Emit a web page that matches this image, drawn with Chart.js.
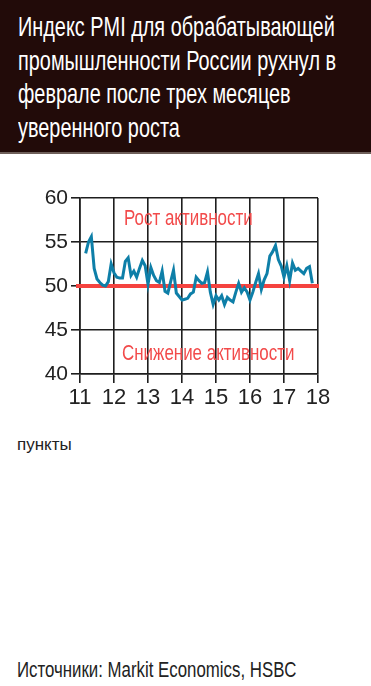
<!DOCTYPE html>
<html>
<head>
<meta charset="utf-8">
<script src="https://cdn.jsdelivr.net/npm/chart.js@4/dist/chart.umd.min.js"></script>
<style>
  body { margin: 0; width: 371px; height: 686px; background: #fff; position: relative; overflow: hidden; }
  #head { position: absolute; left: 0; top: 0; width: 371px; height: 152px; background: #220b09; border-bottom: 2px solid #6e5f5a; }
  #head div { position: absolute; left: 18px; top: 10px; color: #fff; white-space: nowrap; font: 28px/33.5px "Liberation Sans", Arial, sans-serif; transform: scaleX(0.71); transform-origin: 0 0; }
  #wrap { position: absolute; left: 0; top: 160px; width: 371px; height: 260px; }
  #unit { position: absolute; left: 17px; top: 435px; font: 17px "Liberation Sans", Arial, sans-serif; color: #222; }
  #src { position: absolute; left: 17px; top: 657px; white-space: nowrap; font: 22px "Liberation Sans", Arial, sans-serif; color: #222; transform: scaleX(0.765); transform-origin: 0 0; }
</style>
</head>
<body>
<div id="head"><div>Индекс PMI для обрабатывающей<br>промышленности России рухнул в<br>феврале после трех месяцев<br>уверенного роста</div></div>
<div id="wrap"><canvas id="myChart" width="371" height="260"></canvas></div>
<div id="unit">пункты</div>
<div id="src">Источники: Markit Economics, HSBC</div>
<script>
// year tick labels, one every 12 months
var yearLabels = ['11', '12', '13', '14', '15', '16', '17', '18'];
// first month of data, counted from January 2011
var firstMonth = 2;
// PMI values, monthly
var pmiValues = [
  53.7, 55.0, 55.6, 52.0, 50.8, 50.4, 50.1, 50.0, 50.5, 52.5,
  51.5, 51.0, 50.9, 50.9, 52.8, 53.2, 51.2, 51.7, 51.0, 52.0,
  52.9, 52.3, 50.2, 52.1, 51.2, 50.6, 50.4, 51.7, 49.4, 49.2,
  50.5, 51.8, 49.2, 48.8, 48.4, 48.5, 48.6, 49.1, 49.3, 51.0,
  50.6, 50.3, 50.4, 51.6, 49.3, 47.9, 48.9, 48.4, 48.9, 47.9,
  48.7, 48.4, 48.2, 49.3, 50.3, 49.3, 49.8, 49.3, 48.4, 49.3,
  50.4, 51.4, 49.6, 50.7, 51.4, 53.4, 53.9, 54.6, 53.0, 52.3,
  51.0, 52.3, 50.6, 52.6, 51.8, 52.0, 51.7, 51.4, 52.0, 52.2,
  50.3
];
var yTicks = [40, 45, 50, 55, 60];
var upText = 'Рост активности';
var downText = 'Снижение активности';

var sans = '"Liberation Sans", Arial, sans-serif';

var points = pmiValues.map(function(v, i) { return { x: firstMonth + i, y: v }; });

// narrow-looking text: squeeze horizontally
function narrowText(c, txt, x, y) {
  c.save();
  c.translate(x, y);
  c.scale(0.77, 1);
  c.fillText(txt, 0, 0);
  c.restore();
}

// red 50 line and the two labels
var marks = {
  id: 'marks',
  beforeDatasetsDraw: function(chart) {
    var c = chart.ctx, a = chart.chartArea, y = chart.scales.y;
    var y50 = y.getPixelForValue(50);
    c.save();
    c.strokeStyle = '#f5433f';
    c.lineWidth = 4;
    c.beginPath();
    c.moveTo(a.left - 4, y50);
    c.lineTo(a.right + 1, y50);
    c.stroke();
    c.fillStyle = '#f24a4a';
    c.font = '22px ' + sans;
    c.textBaseline = 'middle';
    narrowText(c, upText, 124, y.getPixelForValue(57.6));
    narrowText(c, downText, 122, y.getPixelForValue(42.3));
    c.restore();
  }
};

var ctx = document.getElementById('myChart').getContext('2d');
var myChart = new Chart(ctx, {
  type: 'line',
  data: {
    datasets: [{
      data: points,
      borderColor: '#0e7fa8',
      borderWidth: 3,
      pointRadius: 0,
      tension: 0
    }]
  },
  options: {
    responsive: false,
    animation: false,
    layout: { padding: { left: 8, right: 53, top: 38, bottom: 10 } },
    plugins: { legend: { display: false }, tooltip: { enabled: false } },
    scales: {
      x: {
        type: 'linear',
        min: 0,
        max: 84,
        afterFit: function(s) { s.height = 36; },
        afterBuildTicks: function(s) { s.ticks = yearLabels.map(function(l, i) { return { value: i * 12 }; }); },
        ticks: {
          autoSkip: false,
          maxRotation: 0,
          padding: 2,
          color: '#222',
          font: { family: sans, size: 22 },
          callback: function(v) { return yearLabels[v / 12]; }
        },
        grid: { color: '#1e1e1e', lineWidth: 1.6, tickLength: 9 },
        border: { color: '#1e1e1e', width: 1.6 }
      },
      y: {
        min: 40,
        max: 60,
        afterFit: function(s) { s.width = 72; },
        afterBuildTicks: function(s) { s.ticks = yTicks.map(function(v) { return { value: v }; }); },
        ticks: {
          padding: 3,
          color: '#222',
          font: { family: sans, size: 21 }
        },
        grid: { color: '#1e1e1e', lineWidth: 1.6, tickLength: 9 },
        border: { color: '#1e1e1e', width: 1.6 }
      }
    }
  },
  plugins: [marks]
});
</script>
</body>
</html>
